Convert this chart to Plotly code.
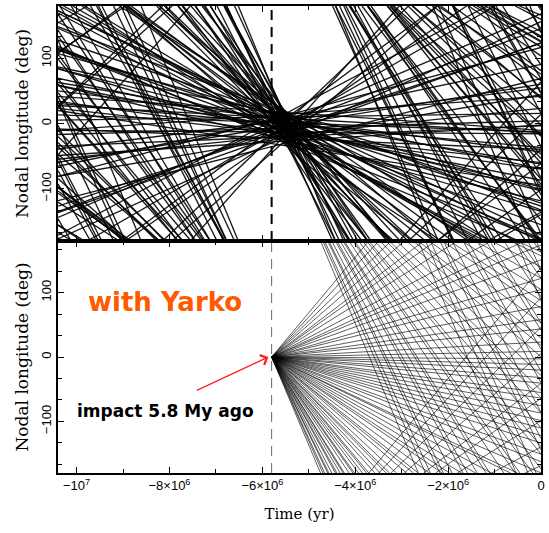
import plotly.graph_objects as go

# ---------------- data ----------------
# top panel (no Yarkovsky): nodal drift rates (deg/Myr) and node at t = -5.5 Myr (deg)
top_rates = [-172, -158, -153, -141, -137, -125, -120, -109, -106, -97,
             -90, -88, -80, -77, -71, -69, -63, -61, -56, -53,
             -52, -47, -45, -41, -40, -37, -36, -33, -31, -30,
             -27, -26, -23, -21, -20, -18, -17, -15, -14, -12,
             -11, -9, -8, -6.5, -5, -3, -2.5, -0.5, 1, 2,
             4.5, 5, 7.5, 9, 11.5, 12, 15, 18, 19, 24,
             25, 30, 32, 38, 41, 49, 53, 63, 68, 80,
             -148, -130, -115, -100, -93, -84, -74, -66, -58, -49,
             -43, -38, -34, -28, -24, -16, -10, -4, 3, 27]
top_offsets = [5, -20, 12, -28, -2, 15, -14, -31, 8, -9,
               18, -24, -5, 10, -17, 2, -33, 14, -11, -3,
               7, -26, 19, -8, -15, 3, -21, 11, -6, -29,
               16, -12, 0, -19, 9, -4, -25, 13, -10, 4,
               -34, 6, -16, -1, 17, -23, 1, -13, 10, -7,
               -27, 14, -18, 5, -3, -22, 8, -30, 12, -9,
               -14, 3, -20, 15, -5, -11, 7, -26, 0, -16,
               -8, 11, -19, 4, -27, 9, -13, 1, -22, 13,
               -6, -17, 6, -24, 10, -9, -15, 8, -20, -3]
t_ref_top = -5.5            # Myr

# bottom panel (with Yarkovsky): drift rates (deg/Myr), all nodes meet at the impact
bottom_rates = [-171, -163, -158, -149, -146, -139, -131, -128, -122, -117,
                -115, -108, -103, -101, -96, -92, -88, -86, -81, -77,
                -73, -71, -67, -62, -59, -57, -53, -49, -47, -44,
                -41, -38, -35, -34, -31, -28, -26, -23, -21, -19,
                -17, -15, -13, -11, -9.5, -7, -5.5, -3.5, -2, -0.5,
                1.5, 4, 7.5, 10, 13.5, 18, 21, 26, 30, 33,
                38, 45, 51, 55, 63, 70, 78, 86]
t_impact = -5.8             # Myr

x_tickvals = [-1e7, -8e6, -6e6, -4e6, -2e6, 0]
x_ticktext = ["\u221210<sup>7</sup>", "\u22128\u00d710<sup>6</sup>", "\u22126\u00d710<sup>6</sup>",
              "\u22124\u00d710<sup>6</sup>", "\u22122\u00d710<sup>6</sup>", "0"]
y_tickvals = [-100, 0, 100]
y_ticktext = ["\u2212100", "0", "100"]

T_MIN, T_MAX = -10.4, 0.0   # Myr


def wrapped_segments(t0, t1, r, om0):
    """Straight line in (t, Omega) wrapped into [-180, 180]; returns x (yr), y lists."""
    xs, ys = [], []
    t = t0
    w = ((om0 + 180.0) % 360.0) - 180.0
    guard = 0
    while t < t1 - 1e-12 and guard < 200:
        guard += 1
        if r > 0 and w >= 180 - 1e-9:
            w = -180.0
        if r < 0 and w <= -180 + 1e-9:
            w = 180.0
        if r > 0:
            dt = (180.0 - w) / r
        elif r < 0:
            dt = (-180.0 - w) / r
        else:
            dt = float("inf")
        tn = min(t + dt, t1)
        wn = w + r * (tn - t)
        xs += [t * 1e6, tn * 1e6, None]
        ys += [w, wn, None]
        t, w = tn, wn
    return xs, ys


top_x, top_y = [], []
for r, off in zip(top_rates, top_offsets):
    om_start = off + r * (T_MIN - t_ref_top)
    xs, ys = wrapped_segments(T_MIN, T_MAX, r, om_start)
    top_x += xs
    top_y += ys

bot_x, bot_y = [], []
for r in bottom_rates:
    xs, ys = wrapped_segments(t_impact, T_MAX, r, 0.0)
    bot_x += xs
    bot_y += ys

fig = go.Figure()
fig.add_trace(go.Scatter(x=top_x, y=top_y, mode="lines", xaxis="x2", yaxis="y2",
                         line=dict(color="rgba(0,0,0,0.9)", width=1.35),
                         hoverinfo="skip", showlegend=False))
fig.add_trace(go.Scatter(x=bot_x, y=bot_y, mode="lines", xaxis="x", yaxis="y",
                         line=dict(color="rgba(0,0,0,0.75)", width=0.85),
                         hoverinfo="skip", showlegend=False))

# dashed impact lines
fig.add_trace(go.Scatter(x=[t_impact * 1e6, t_impact * 1e6], y=[-180, 180], mode="lines",
                         xaxis="x2", yaxis="y2", line=dict(color="black", width=2, dash="10px,7px"),
                         hoverinfo="skip", showlegend=False))
fig.add_trace(go.Scatter(x=[t_impact * 1e6, t_impact * 1e6], y=[-180, 180], mode="lines",
                         xaxis="x", yaxis="y", line=dict(color="rgba(0,0,0,0.6)", width=1, dash="10px,7px"),
                         hoverinfo="skip", showlegend=False))

tickfont = dict(family="Liberation Sans, Arial, sans-serif", size=13, color="black")
xtitlefont = dict(family="DejaVu Serif, serif", size=15, color="black")
ytitlefont = dict(family="DejaVu Serif, serif", size=17, color="black")
split = 232 / 467

common_x = dict(range=[T_MIN * 1e6, T_MAX * 1e6], showgrid=False, zeroline=False,
                showline=True, linecolor="black", linewidth=1.5, mirror="ticks",
                ticks="inside", ticklen=6, tickcolor="black", tickwidth=1,
                tickvals=x_tickvals,
                minor=dict(dtick=1e6, tick0=0, ticks="inside", ticklen=4, tickcolor="black"))
common_y = dict(range=[-180, 180], showgrid=False, zeroline=False,
                showline=True, linecolor="black", linewidth=1.5, mirror="ticks",
                ticks="inside", ticklen=6, tickcolor="black", tickwidth=1,
                tickvals=y_tickvals, ticktext=y_ticktext, tickangle=-90, tickfont=tickfont,
                minor=dict(dtick=100 / 3, tick0=0, ticks="inside", ticklen=4, tickcolor="black"),
                title=dict(text="Nodal longitude (deg)", font=ytitlefont, standoff=6))

fig.update_layout(
    width=549, height=533,
    margin=dict(l=58, r=4, t=6, b=60),
    paper_bgcolor="white", plot_bgcolor="white",
    xaxis=dict(**common_x, anchor="y", ticktext=x_ticktext, tickfont=tickfont,
               title=dict(text="Time (yr)", font=xtitlefont, standoff=16)),
    xaxis2=dict(**common_x, anchor="y2", matches="x", showticklabels=False),
    yaxis=dict(**common_y, domain=[0, split], anchor="x"),
    yaxis2=dict(**common_y, domain=[split, 1], anchor="x2"),
)

fig.add_annotation(x=-8.1e6, y=85, xref="x", yref="y", text="<b>with Yarko</b>", showarrow=False,
                   font=dict(family="DejaVu Sans, sans-serif", size=26, color="#ff5a00"))
fig.add_annotation(x=-8.08e6, y=-84, xref="x", yref="y", text="<b>impact 5.8 My ago</b>", showarrow=False,
                   font=dict(family="DejaVu Sans, sans-serif", size=17, color="black"))
fig.add_annotation(x=-5.87e6, y=0, xref="x", yref="y", ax=-73, ay=34, axref="pixel", ayref="pixel",
                   text="", showarrow=True, arrowhead=4, arrowsize=1.6, arrowwidth=1.3,
                   arrowcolor="#ff2020", standoff=0)

fig.write_html("out.html")
